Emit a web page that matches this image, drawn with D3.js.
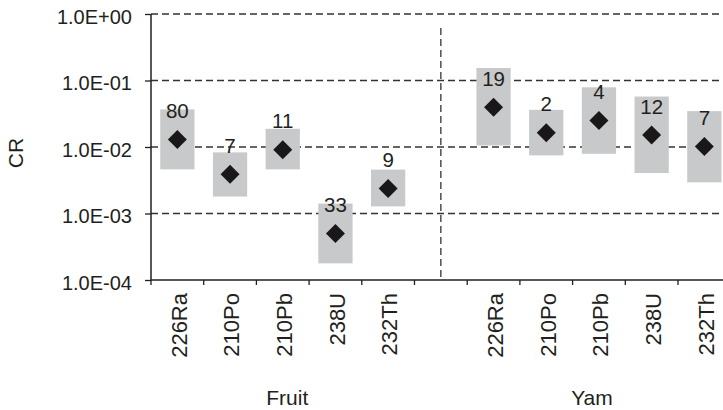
<!DOCTYPE html>
<html>
<head>
<meta charset="utf-8">
<script src="https://cdn.jsdelivr.net/npm/d3@7"></script>
<style>
  html, body { margin: 0; padding: 0; background: #fff; }
  svg { display: block; }
  text { font-family: "Liberation Sans", Arial, sans-serif; fill: #231f20; }
</style>
</head>
<body>
<svg id="chart" width="723" height="410"></svg>
<script>
// ---- data ----
const categories = ["226Ra", "210Po", "210Pb", "238U", "232Th"];
const groups = ["Fruit", "Yam"];
const yTicks = [1e-4, 1e-3, 1e-2, 1e-1, 1e0];

const fruitMean = [0.0130, 0.00388, 0.0091, 0.00050, 0.00237];
const fruitLow  = [0.00461, 0.00180, 0.00461, 0.000178, 0.00128];
const fruitHigh = [0.0367, 0.0083, 0.0188, 0.00141, 0.00457];
const fruitN    = [80, 7, 11, 33, 9];

const yamMean = [0.0396, 0.01637, 0.0251, 0.0151, 0.0102];
const yamLow  = [0.01057, 0.00748, 0.0079, 0.00406, 0.00294];
const yamHigh = [0.1545, 0.0362, 0.079, 0.0574, 0.0346];
const yamN    = [19, 2, 4, 12, 7];

(function () {
// ---- layout ----
const svg = d3.select("#chart");
const mLeft = 151, mRight = 730.7, mTop = 14, mBottom = 280;

const slots = [
  ...categories.map(c => "Fruit|" + c),
  "gap",
  ...categories.map(c => "Yam|" + c)
];
const x = d3.scaleBand().domain(slots).range([mLeft, mRight]).paddingInner(0).paddingOuter(0);
const y = d3.scaleLog().domain([1e-4, 1e0]).range([mBottom, mTop]);

const rows = [];
categories.forEach((c, i) => rows.push({key: "Fruit|" + c, cat: c, mean: fruitMean[i], lo: fruitLow[i], hi: fruitHigh[i], n: fruitN[i]}));
categories.forEach((c, i) => rows.push({key: "Yam|" + c, cat: c, mean: yamMean[i], lo: yamLow[i], hi: yamHigh[i], n: yamN[i]}));

const fmt = v => {
  const e = Math.round(Math.log10(v));
  const s = e < 0 ? "-" : "+";
  return "1.0E" + s + String(Math.abs(e)).padStart(2, "0");
};

// gridlines (dashed)
svg.append("g").selectAll("line").data(yTicks.filter(t => t > 1e-4)).join("line")
  .attr("x1", mLeft).attr("x2", 723)
  .attr("y1", d => y(d)).attr("y2", d => y(d))
  .attr("stroke", "#333").attr("stroke-width", 1.3)
  .attr("stroke-dasharray", "7,4");

// vertical separator
const gx = x("gap") + x.bandwidth() / 2;
svg.append("line")
  .attr("x1", gx).attr("x2", gx)
  .attr("y1", 28).attr("y2", mBottom)
  .attr("stroke", "#333").attr("stroke-width", 1.3)
  .attr("stroke-dasharray", "7,4");

// boxes
const bw = x.bandwidth() * 0.65;
svg.append("g").selectAll("rect").data(rows).join("rect")
  .attr("x", d => x(d.key) + (x.bandwidth() - bw) / 2)
  .attr("width", bw)
  .attr("y", d => y(d.hi))
  .attr("height", d => y(d.lo) - y(d.hi))
  .attr("fill", "#c8c9ca");

// diamonds
const diamond = d3.symbol().type(d3.symbolSquare).size(180);
svg.append("g").selectAll("path").data(rows).join("path")
  .attr("d", diamond)
  .attr("transform", d => `translate(${x(d.key) + x.bandwidth() / 2},${y(d.mean)}) rotate(45)`)
  .attr("fill", "#1a1718");

// count labels
svg.append("g").selectAll("text").data(rows).join("text")
  .attr("x", d => x(d.key) + x.bandwidth() / 2)
  .attr("y", d => y(d.mean) - 21.5)
  .attr("text-anchor", "middle")
  .style("font-size", "20.5px")
  .text(d => d.n);

// y axis
const yAxis = d3.axisLeft(y).tickValues(yTicks).tickFormat(fmt).tickSize(6).tickPadding(13);
const gy = svg.append("g").attr("transform", `translate(${mLeft},0)`).call(yAxis);
gy.select(".domain").attr("stroke", "#231f20").attr("stroke-width", 1.5).attr("d", `M0,${mTop}V${mBottom}`);
gy.selectAll(".tick line").attr("stroke", "#231f20").attr("stroke-width", 1.3);
gy.selectAll(".tick text").style("font-size", "20px").attr("font-family", null).attr("dy", "0.47em").attr("fill", "#231f20");

// x axis
const boundaries = slots.map(s => x(s)).concat([mRight]);
svg.append("line").attr("x1", mLeft).attr("x2", 723).attr("y1", mBottom).attr("y2", mBottom)
  .attr("stroke", "#231f20").attr("stroke-width", 1.5);
svg.append("g").selectAll("line").data(boundaries).join("line")
  .attr("x1", d => d).attr("x2", d => d)
  .attr("y1", mBottom).attr("y2", mBottom + 5)
  .attr("stroke", "#231f20").attr("stroke-width", 1.3);

// category labels
svg.append("g").selectAll("text").data(rows).join("text")
  .attr("transform", d => `translate(${x(d.key) + x.bandwidth() / 2},293) rotate(-90)`)
  .attr("dy", "0.42em")
  .attr("text-anchor", "end")
  .style("font-size", "22px")
  .text(d => d.cat);

// group labels
const groupX = [x("Fruit|210Pb") + x.bandwidth() / 2 + 4.5, x("Yam|210Pb") + x.bandwidth() / 2 - 7];
svg.append("g").selectAll("text").data(groups).join("text")
  .attr("x", (d, i) => groupX[i])
  .attr("y", 405)
  .attr("text-anchor", "middle")
  .style("font-size", "21px")
  .text(d => d);

// y title
svg.append("text")
  .attr("transform", "translate(16,153) rotate(-90)")
  .attr("dy", "0.35em")
  .attr("text-anchor", "middle")
  .style("font-size", "21px")
  .text("CR");
})();
</script>
</body>
</html>
